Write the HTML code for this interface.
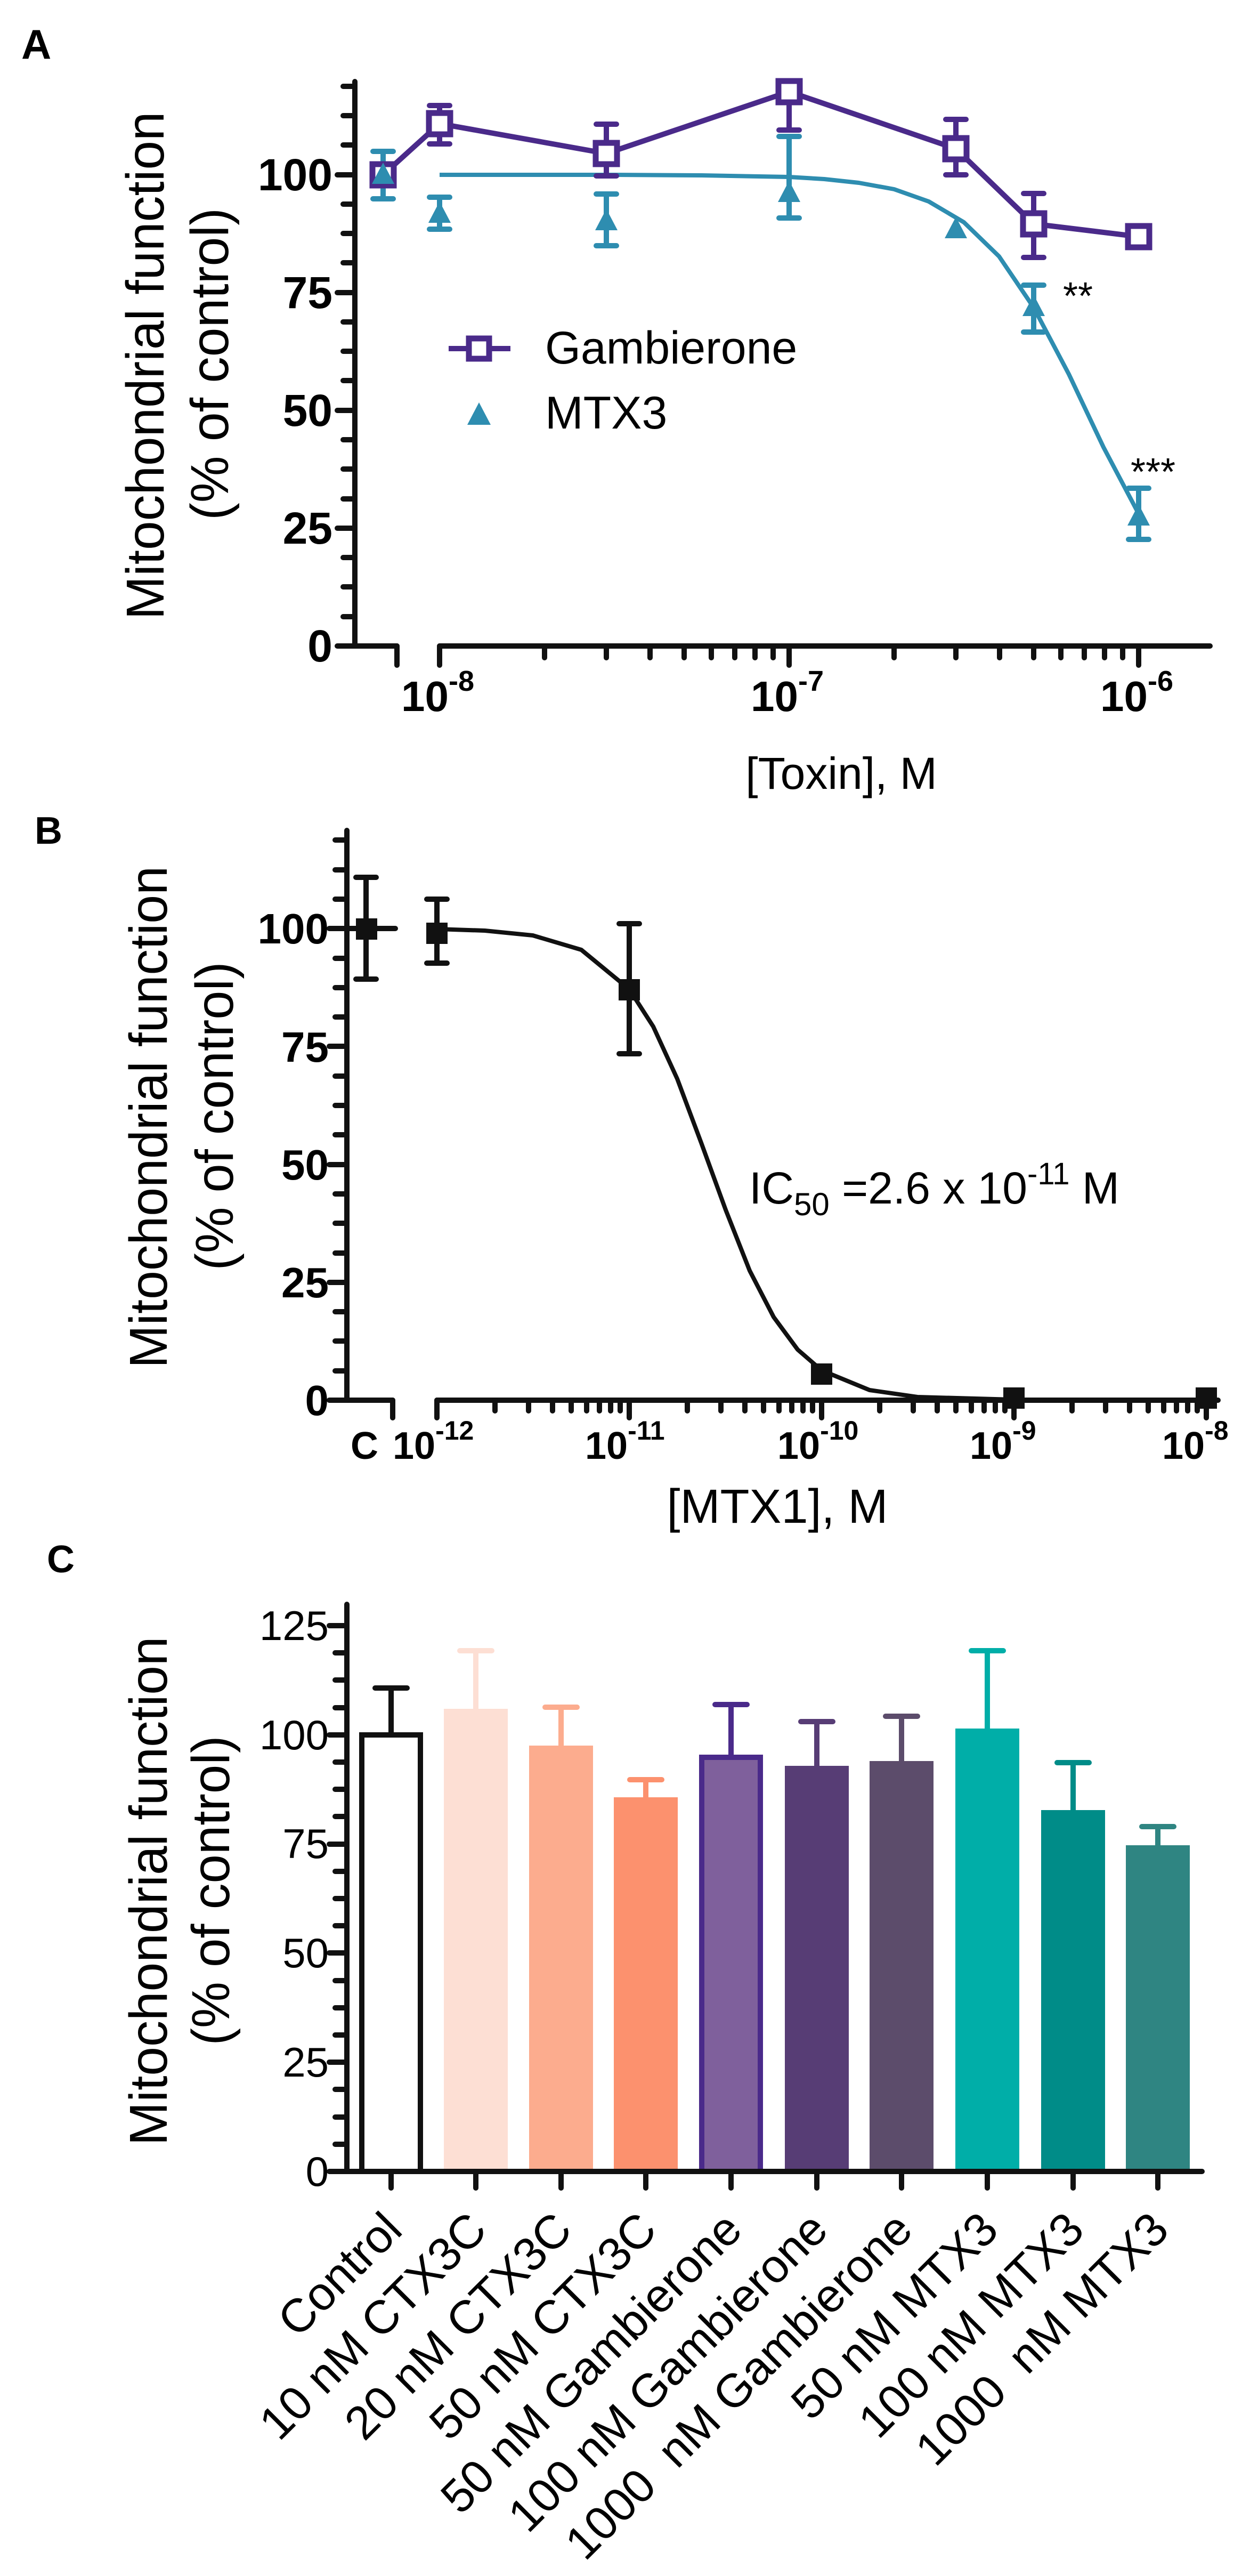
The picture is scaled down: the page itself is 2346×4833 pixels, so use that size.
<!DOCTYPE html>
<html><head><meta charset="utf-8"><style>
html,body{margin:0;padding:0;background:#fff}
svg{display:block}
.t{font-family:"Liberation Sans",sans-serif}
.n{font-family:"Liberation Sans Narrow","Liberation Sans",sans-serif}
</style></head><body>
<svg width="2346" height="4833" viewBox="0 0 2346 4833" xmlns="http://www.w3.org/2000/svg">
<rect width="2346" height="4833" fill="#fff"/>

<!-- ================= PANEL A ================= -->
<text x="40" y="110" class="n" font-size="78" font-weight="bold">A</text>
<g stroke="#111" stroke-width="10" fill="none" stroke-linecap="round">
  <line x1="666" y1="153" x2="666" y2="1212"/>
  <line x1="639" y1="1212" x2="745" y2="1212"/>
  <line x1="745" y1="1212" x2="745" y2="1248"/>
  <line x1="825" y1="1212" x2="2271" y2="1212"/>
  <line x1="825" y1="1212" x2="825" y2="1248"/>
  <line x1="1481" y1="1212" x2="1481" y2="1248"/>
  <line x1="2137" y1="1212" x2="2137" y2="1248"/>
  <path d="M1022 1212v22M1138 1212v22M1220 1212v22M1284 1212v22M1335 1212v22M1379 1212v22M1417 1212v22M1451 1212v22M1678 1212v22M1794 1212v22M1876 1212v22M1940 1212v22M1991 1212v22M2035 1212v22M2073 1212v22M2107 1212v22"/>
  <path d="M633 1212h33M633 991h33M633 770h33M633 549h33M633 328h33M644 1157h22M644 1101h22M644 1046h22M644 936h22M644 880h22M644 825h22M644 714h22M644 659h22M644 604h22M644 493h22M644 438h22M644 383h22M644 272h22M644 217h22M644 162h22"/>
</g>
<g class="n" font-size="84" font-weight="bold" text-anchor="end">
  <text x="624" y="357">100</text><text x="624" y="578">75</text><text x="624" y="799">50</text><text x="624" y="1020">25</text><text x="624" y="1241">0</text>
</g>
<g class="n" font-size="80" font-weight="bold">
  <text x="753" y="1334">10<tspan dy="-38" font-size="54">-8</tspan></text>
  <text x="1409" y="1334">10<tspan dy="-38" font-size="54">-7</tspan></text>
  <text x="2065" y="1334">10<tspan dy="-38" font-size="54">-6</tspan></text>
</g>
<text x="1579" y="1480" class="n" font-size="84" text-anchor="middle">[Toxin], M</text>
<text transform="translate(307,686) rotate(-90)" class="t" font-size="100" text-anchor="middle" textLength="953" lengthAdjust="spacingAndGlyphs">Mitochondrial function</text>
<text transform="translate(428,683) rotate(-90)" class="t" font-size="100" text-anchor="middle" textLength="586" lengthAdjust="spacingAndGlyphs">(% of control)</text>

<!-- MTX3 curve -->
<polyline fill="none" stroke="#2e8db0" stroke-width="8" stroke-linejoin="round" points="825,328 1153,328 1317,329 1481,332 1547,336 1612,343 1678,355 1743,378 1809,417 1875,481 1940,577 2006,702 2071,839 2137,964"/>
<!-- MTX3 error bars -->
<g stroke="#2e8db0" stroke-width="10" fill="none" stroke-linecap="round">
  <path d="M719 284V373M700 284h38M700 373h38"/>
  <path d="M825 370V430M806 370h38M806 430h38"/>
  <path d="M1138 364V461M1119 364h38M1119 461h38"/>
  <path d="M1481 256V409M1462 256h38M1462 409h38"/>
  <path d="M1940 535V623M1921 535h38M1921 623h38"/>
  <path d="M2137 916V1012M2118 916h38M2118 1012h38"/>
</g>
<!-- Gambierone line -->
<polyline fill="none" stroke="#4a2a8a" stroke-width="10" stroke-linejoin="round" points="719,328 825,232 1138,288 1481,172 1794,279 1940,420 2137,444"/>
<g stroke="#4a2a8a" stroke-width="10" fill="none" stroke-linecap="round">
  <path d="M825 198V270M806 198h38M806 270h38"/>
  <path d="M1138 233V330M1119 233h38M1119 330h38"/>
  <path d="M1481 153V244M1462 153h38M1462 244h38"/>
  <path d="M1794 224V328M1775 224h38M1775 328h38"/>
  <path d="M1940 363V483M1921 363h38M1921 483h38"/>
</g>
<g fill="#fff" stroke="#4a2a8a" stroke-width="11">
  <rect x="699" y="308" width="40" height="40"/>
  <rect x="805" y="212" width="40" height="40"/>
  <rect x="1118" y="268" width="40" height="40"/>
  <rect x="1461" y="152" width="40" height="40"/>
  <rect x="1774" y="259" width="40" height="40"/>
  <rect x="1920" y="400" width="40" height="40"/>
  <rect x="2117" y="424" width="40" height="40"/>
</g>
<g fill="#2e8db0">
  <polygon points="719,305 740,345 698,345"/>
  <polygon points="825,378 846,418 804,418"/>
  <polygon points="1138,392 1159,432 1117,432"/>
  <polygon points="1481,339 1502,379 1460,379"/>
  <polygon points="1794,407 1815,447 1773,447"/>
  <polygon points="1940,553 1961,593 1919,593"/>
  <polygon points="2137,946 2158,986 2116,986"/>
</g>
<text x="1995" y="580" class="n" font-size="72">**</text>
<text x="2122" y="910" class="n" font-size="72">***</text>
<!-- Legend -->
<line x1="842" y1="654" x2="958" y2="654" stroke="#4a2a8a" stroke-width="10"/>
<rect x="880" y="635" width="38" height="38" fill="#fff" stroke="#4a2a8a" stroke-width="11"/>
<text x="1023" y="682" class="n" font-size="86">Gambierone</text>
<polygon points="899,755 921,797 877,797" fill="#2e8db0"/>
<text x="1023" y="804" class="n" font-size="86">MTX3</text>

<!-- ================= PANEL B ================= -->
<text x="65" y="1583" class="n" font-size="72" font-weight="bold">B</text>
<g stroke="#111" stroke-width="10" fill="none" stroke-linecap="round">
  <line x1="651" y1="1558" x2="651" y2="2627"/>
  <line x1="624" y1="2627" x2="737" y2="2627"/>
  <line x1="737" y1="2627" x2="737" y2="2660"/>
  <line x1="820" y1="2627" x2="2286" y2="2627"/>
  <path d="M820 2627v33M1181 2627v33M1542 2627v33M1903 2627v33M2264 2627v33"/>
  <path d="M929 2627v20M992 2627v20M1037 2627v20M1072 2627v20M1101 2627v20M1125 2627v20M1146 2627v20M1164 2627v20M1290 2627v20M1353 2627v20M1398 2627v20M1433 2627v20M1462 2627v20M1486 2627v20M1507 2627v20M1525 2627v20M1651 2627v20M1714 2627v20M1759 2627v20M1794 2627v20M1823 2627v20M1847 2627v20M1868 2627v20M1886 2627v20M2012 2627v20M2075 2627v20M2120 2627v20M2155 2627v20M2184 2627v20M2208 2627v20M2229 2627v20M2247 2627v20"/>
  <path d="M618 2627h33M618 2406h33M618 2185h33M618 1963h33M618 1742h33M629 2572h22M629 2516h22M629 2461h22M629 2351h22M629 2295h22M629 2240h22M629 2129h22M629 2074h22M629 2019h22M629 1908h22M629 1853h22M629 1798h22M629 1687h22M629 1632h22M629 1576h22"/>
</g>
<g class="n" font-size="80" font-weight="bold" text-anchor="end">
  <text x="617" y="1770">100</text><text x="617" y="1992">75</text><text x="617" y="2213">50</text><text x="617" y="2434">25</text><text x="617" y="2655">0</text>
</g>
<g class="n" font-size="72" font-weight="bold">
  <text x="684" y="2737" text-anchor="middle">C</text>
  <text x="737" y="2737">10<tspan dy="-36" font-size="50">-12</tspan></text>
  <text x="1098" y="2737">10<tspan dy="-36" font-size="50">-11</tspan></text>
  <text x="1459" y="2737">10<tspan dy="-36" font-size="50">-10</tspan></text>
  <text x="1820" y="2737">10<tspan dy="-36" font-size="50">-9</tspan></text>
  <text x="2181" y="2737">10<tspan dy="-36" font-size="50">-8</tspan></text>
</g>
<text x="1459" y="2857" class="n" font-size="90" text-anchor="middle">[MTX1], M</text>
<text transform="translate(313,2096) rotate(-90)" class="t" font-size="100" text-anchor="middle" textLength="942" lengthAdjust="spacingAndGlyphs">Mitochondrial function</text>
<text transform="translate(437,2094) rotate(-90)" class="t" font-size="100" text-anchor="middle" textLength="579" lengthAdjust="spacingAndGlyphs">(% of control)</text>
<polyline fill="none" stroke="#111" stroke-width="8" stroke-linejoin="round" points="820,1743 910,1746 1000,1755 1091,1782 1181,1856 1226,1926 1271,2024 1316,2144 1362,2270 1407,2384 1452,2471 1497,2532 1542,2571 1632,2608 1722,2621 1903,2626 2264,2627"/>
<g stroke="#111" stroke-width="10" fill="none" stroke-linecap="round">
  <path d="M687 1646V1837M668 1646h38M668 1837h38M652 1742h90"/>
  <path d="M820 1687V1807M801 1687h38M801 1807h38"/>
  <path d="M1181 1733V1977M1162 1733h38M1162 1977h38"/>
</g>
<g fill="#111">
  <rect x="668" y="1723" width="40" height="40"/>
  <rect x="800" y="1731" width="40" height="40"/>
  <rect x="1161" y="1837" width="40" height="40"/>
  <rect x="1522" y="2558" width="40" height="40"/>
  <rect x="1883" y="2603" width="40" height="40"/>
  <rect x="2244" y="2603" width="40" height="40"/>
</g>
<text x="1406" y="2258" class="n" font-size="84">IC<tspan dy="22" font-size="60">50</tspan><tspan dy="-22"> =2.6 x 10</tspan><tspan dy="-36" font-size="58">-11</tspan><tspan dy="36"> M</tspan></text>

<!-- ================= PANEL C ================= -->
<text x="88" y="2950" class="t" font-size="72" font-weight="bold">C</text>
<!-- bars -->
<g stroke-linecap="round" fill="none" stroke-width="10">
  <path d="M734 3255V3167M704 3167h60" stroke="#111"/>
  <path d="M893 3206V3097M863 3097h60" stroke="#fddfd4"/>
  <path d="M1053 3275V3203M1023 3203h60" stroke="#fcac8e"/>
  <path d="M1212 3372V3339M1182 3339h60" stroke="#fc916e"/>
  <path d="M1372 3297V3198M1342 3198h60" stroke="#4a2a8a"/>
  <path d="M1533 3313V3230M1503 3230h60" stroke="#573d75"/>
  <path d="M1692 3304V3220M1662 3220h60" stroke="#5c4c6b"/>
  <path d="M1853 3243V3097M1823 3097h60" stroke="#00aea8"/>
  <path d="M2014 3396V3307M1984 3307h60" stroke="#008c88"/>
  <path d="M2173 3462V3427M2143 3427h60" stroke="#2f8582"/>
</g>
<rect x="679" y="3255" width="110" height="819" fill="#fff" stroke="#111" stroke-width="10"/>
<rect x="833" y="3206" width="120" height="868" fill="#fddfd4"/>
<rect x="993" y="3275" width="120" height="799" fill="#fcac8e"/>
<rect x="1152" y="3372" width="120" height="702" fill="#fc916e"/>
<rect x="1317" y="3297" width="110" height="777" fill="#7f609c" stroke="#4a2a8a" stroke-width="10"/>
<rect x="1473" y="3313" width="120" height="761" fill="#573d75"/>
<rect x="1632" y="3304" width="120" height="770" fill="#5c4c6b"/>
<rect x="1793" y="3243" width="120" height="831" fill="#00aea8"/>
<rect x="1954" y="3396" width="120" height="678" fill="#008c88"/>
<rect x="2113" y="3462" width="120" height="612" fill="#2f8582"/>
<g stroke="#111" stroke-width="10" fill="none" stroke-linecap="round">
  <line x1="651" y1="3010" x2="651" y2="4074"/>
  <line x1="624" y1="4074" x2="2256" y2="4074"/>
  <path d="M734 4074v31M893 4074v31M1053 4074v31M1212 4074v31M1372 4074v31M1533 4074v31M1692 4074v31M1853 4074v31M2014 4074v31M2173 4074v31"/>
  <path d="M618 4074h33M618 3869h33M618 3664h33M618 3460h33M618 3255h33M618 3050h33M629 4023h22M629 3972h22M629 3920h22M629 3818h22M629 3767h22M629 3716h22M629 3613h22M629 3562h22M629 3511h22M629 3408h22M629 3357h22M629 3306h22M629 3204h22M629 3152h22M629 3101h22"/>
</g>
<g class="n" font-size="78" text-anchor="end">
  <text x="617" y="3077">125</text><text x="617" y="3282">100</text><text x="617" y="3486">75</text><text x="617" y="3691">50</text><text x="617" y="3896">25</text><text x="617" y="4101">0</text>
</g>
<text transform="translate(313,3548) rotate(-90)" class="t" font-size="100" text-anchor="middle" textLength="955" lengthAdjust="spacingAndGlyphs">Mitochondrial function</text>
<text transform="translate(430,3547) rotate(-90)" class="t" font-size="100" text-anchor="middle" textLength="581" lengthAdjust="spacingAndGlyphs">(% of control)</text>
<g class="t" font-size="88" text-anchor="end">
  <text transform="translate(759,4188) rotate(-45)">Control</text>
  <text transform="translate(918,4188) rotate(-45)">10 nM CTX3C</text>
  <text transform="translate(1078,4188) rotate(-45)">20 nM CTX3C</text>
  <text transform="translate(1237,4188) rotate(-45)">50 nM CTX3C</text>
  <text transform="translate(1397,4188) rotate(-45)">50 nM Gambierone</text>
  <text transform="translate(1558,4188) rotate(-45)">100 nM Gambierone</text>
  <text transform="translate(1717,4188) rotate(-45)" xml:space="preserve">1000  nM Gambierone</text>
  <text transform="translate(1878,4188) rotate(-45)">50 nM MTX3</text>
  <text transform="translate(2039,4188) rotate(-45)">100 nM MTX3</text>
  <text transform="translate(2198,4188) rotate(-45)" xml:space="preserve">1000  nM MTX3</text>
</g>
</svg>
</body></html>
